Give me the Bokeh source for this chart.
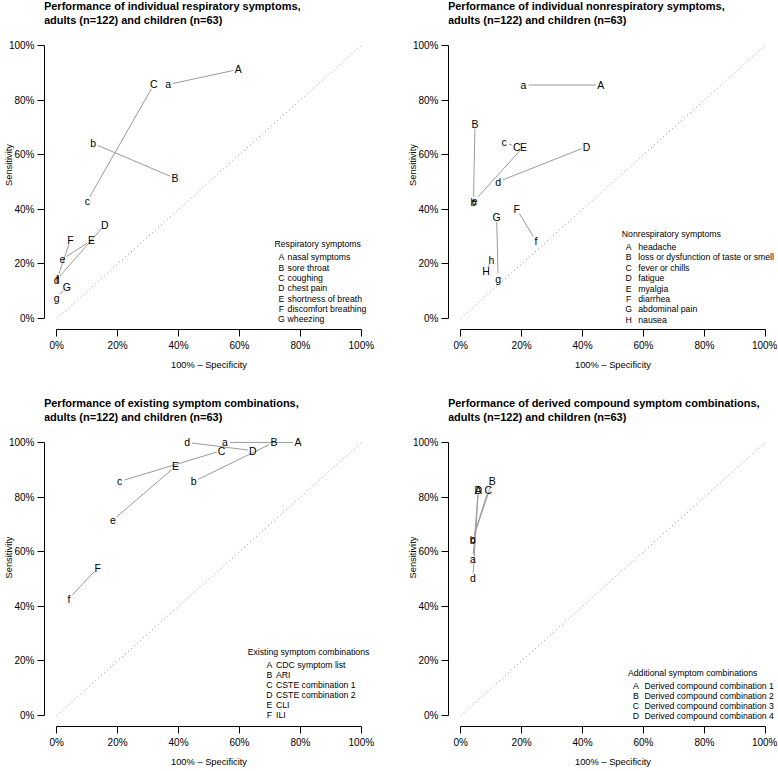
import math
from bokeh.plotting import figure
from bokeh.models import FixedTicker, Range1d
from bokeh.layouts import column, row
from bokeh.embed import file_html
from bokeh.resources import INLINE
from bokeh.core.properties import value

FONT = "Liberation Sans"

tick_values = [0, 20, 40, 60, 80, 100]
tick_labels = ["0%", "20%", "40%", "60%", "80%", "100%"]
x_title = "100% \u2013 Specificity"
y_title = "Sensitivity"
subtitle = "adults (n=122) and children (n=63)"

# ---- Panel 1: individual respiratory symptoms ----
resp_title = "Performance of individual respiratory symptoms,"
resp_codes = ["A", "B", "C", "D", "E", "F", "G"]
resp_names = ["nasal symptoms", "sore throat", "coughing", "chest pain",
              "shortness of breath", "discomfort breathing", "wheezing"]
resp_adult_fpr = [59.6, 38.8, 31.9, 15.8, 11.4, 4.5, 3.3]
resp_adult_sens = [91.2, 51.4, 85.7, 34.3, 28.6, 28.8, 11.6]
resp_child_fpr = [36.6, 12.0, 10.1, 0.0, 1.9, 0.2, 0.0]
resp_child_sens = [85.7, 64.1, 43.1, 14.2, 21.8, 14.6, 7.6]

# ---- Panel 2: individual nonrespiratory symptoms ----
nonresp_title = "Performance of individual nonrespiratory symptoms,"
nonresp_codes = ["A", "B", "C", "D", "E", "F", "G", "H"]
nonresp_names = ["headache", "loss or dysfunction of taste or smell", "fever or chills",
                 "fatigue", "myalgia", "diarrhea", "abdominal  pain", "nausea"]
nonresp_adult_fpr = [46.0, 4.7, 18.4, 41.3, 20.6, 18.4, 11.8, 8.3]
nonresp_adult_sens = [85.5, 71.4, 62.9, 62.9, 62.9, 40.0, 37.3, 17.3]
nonresp_child_fpr = [20.6, 4.2, 14.3, 12.3, 4.6, 24.7, 12.3, 10.1]
nonresp_child_sens = [85.5, 42.8, 64.5, 50.1, 43.2, 28.5, 14.6, 21.5]

# ---- Panel 3: existing symptom combinations ----
exist_title = "Performance of existing symptom combinations,"
exist_codes = ["A", "B", "C", "D", "E", "F"]
exist_names = ["CDC symptom list", "ARI", "CSTE combination 1", "CSTE combination 2", "CLI", "ILI"]
exist_adult_fpr = [79.2, 71.3, 54.1, 64.4, 39.0, 13.5]
exist_adult_sens = [100.0, 100.0, 97.0, 97.0, 91.2, 54.1]
exist_child_fpr = [55.2, 45.0, 20.7, 42.8, 18.5, 4.0]
exist_child_sens = [100.0, 85.7, 85.7, 100.0, 71.6, 42.8]

# ---- Panel 4: derived compound symptom combinations ----
derived_title = "Performance of derived compound symptom combinations,"
derived_codes = ["A", "B", "C", "D"]
derived_names = ["Derived compound combination 1", "Derived compound combination 2",
                 "Derived compound combination 3", "Derived compound combination 4"]
derived_adult_fpr = [5.8, 10.4, 9.1, 5.8]
derived_adult_sens = [82.7, 85.8, 82.7, 82.7]
derived_child_fpr = [4.0, 3.9, 4.0, 4.0]
derived_child_sens = [57.2, 64.2, 64.6, 50.2]

FRAME_W = 329
PLOT_H = 295          # height of the (-4, 104) data window in px
SPAN = 108.0
PXX = FRAME_W / SPAN
PXY = PLOT_H / SPAN
GAP = 5.0
LINE_COL = "#9a9a9a"


def make_panel(title1, codes, names, leg_title, ax, ay, cx, cy, leg, width, height,
               left, right, top_px, bottom):
    # the frame is extended upward (invisible) so the title can sit inside it
    y_top = 104 + top_px / PXY
    p = figure(width=width, height=height, x_range=Range1d(-4, 104),
               y_range=Range1d(-4, y_top),
               output_backend="svg", toolbar_location=None,
               min_border_left=left, min_border_right=right,
               min_border_top=0, min_border_bottom=bottom)
    p.outline_line_color = None
    p.xgrid.visible = False
    p.ygrid.visible = False
    p.background_fill_color = "white"
    p.border_fill_color = "white"

    for a in (p.xaxis[0], p.yaxis[0]):
        a.ticker = FixedTicker(ticks=tick_values)
        a.major_label_overrides = dict(zip(tick_values, tick_labels))
        a.bounds = (0, 100)
        a.major_tick_out = 7
        a.major_tick_in = 0
        a.minor_tick_line_color = None
        a.axis_line_color = "black"
        a.major_tick_line_color = "black"
        a.major_label_text_font = FONT
        a.major_label_text_font_size = "10px"
        a.major_label_text_color = "black"
        a.major_label_standoff = 3
        a.axis_label_text_font = FONT
        a.axis_label_text_font_size = "9.3px"
        a.axis_label_text_font_style = "normal"
        a.axis_label_text_color = "black"
    p.xaxis.axis_label = x_title
    p.yaxis.axis_label = y_title
    p.xaxis.axis_label_standoff = 6
    p.yaxis.axis_label_standoff = -8

    # two-line bold title (line centres 28.5 px and 14.5 px above the 104 level)
    p.text(x=[-4.2, -4.2], y=[104 + 28.5 / PXY, 104 + 14.5 / PXY], text=[title1, subtitle],
           text_font=value(FONT), text_font_size="11px", text_font_style="bold",
           text_align="left", text_baseline="middle", text_color="black")

    # diagonal reference
    p.line([0, 100], [0, 100], line_color="#8c8c8c", line_dash="1 3", line_width=1)

    # connecting segments, shortened so they stop short of the letters
    x0s, y0s, x1s, y1s = [], [], [], []
    for xa, ya, xc, yc in zip(ax, ay, cx, cy):
        dxp = (xc - xa) * PXX
        dyp = (yc - ya) * PXY
        L = math.hypot(dxp, dyp)
        if L <= 2 * GAP + 1:
            continue
        t = GAP / L
        x0s.append(xa + (xc - xa) * t)
        y0s.append(ya + (yc - ya) * t)
        x1s.append(xc - (xc - xa) * t)
        y1s.append(yc - (yc - ya) * t)
    p.segment(x0s, y0s, x1s, y1s, line_color=LINE_COL, line_width=1)

    p.text(x=ax, y=ay, text=codes, text_font=value(FONT), text_font_size="10.5px",
           text_align="center", text_baseline="middle", text_color="black")
    p.text(x=cx, y=cy, text=[c.lower() for c in codes], text_font=value(FONT),
           text_font_size="10.5px", text_align="center", text_baseline="middle",
           text_color="black")

    # legend block
    lx_title, ly_title, lx_code, lx_name, ly_first, spacing_px = leg
    step = spacing_px / PXY
    p.text(x=[lx_title], y=[ly_title], text=[leg_title], text_font=value(FONT),
           text_font_size="8.7px", text_align="left", text_baseline="middle",
           text_color="black")
    ys = [ly_first - i * step for i in range(len(codes))]
    p.text(x=[lx_code] * len(codes), y=ys, text=codes, text_font=value(FONT),
           text_font_size="8.7px", text_align="center", text_baseline="middle",
           text_color="black")
    p.text(x=[lx_name] * len(codes), y=ys, text=names, text_font=value(FONT),
           text_font_size="8.7px", text_align="left", text_baseline="middle",
           text_color="black")
    return p


p1 = make_panel(resp_title, resp_codes, resp_names, "Respiratory symptoms",
                resp_adult_fpr, resp_adult_sens, resp_child_fpr, resp_child_sens,
                (71.5, 27.4, 73.8, 75.8, 22.4, 10.3),
                396, 388, 44, 23, 34, 59)
p2 = make_panel(nonresp_title, nonresp_codes, nonresp_names, "Nonrespiratory symptoms",
                nonresp_adult_fpr, nonresp_adult_sens, nonresp_child_fpr, nonresp_child_sens,
                (52.9, 31.0, 55.1, 58.3, 26.2, 10.4),
                381, 388, 52, 0, 34, 59)
p3 = make_panel(exist_title, exist_codes, exist_names, "Existing symptom combinations",
                exist_adult_fpr, exist_adult_sens, exist_child_fpr, exist_child_sens,
                (62.7, 23.2, 69.8, 72.0, 18.4, 10.0),
                396, 382, 44, 23, 43, 44)
p4 = make_panel(derived_title, derived_codes, derived_names, "Additional symptom combinations",
                derived_adult_fpr, derived_adult_sens, derived_child_fpr, derived_child_sens,
                (54.9, 15.6, 57.5, 60.3, 10.7, 10.0),
                381, 382, 52, 0, 43, 44)

layout = column(row(p1, p2), row(p3, p4))
open("out.html", "w").write(file_html(layout, INLINE))
